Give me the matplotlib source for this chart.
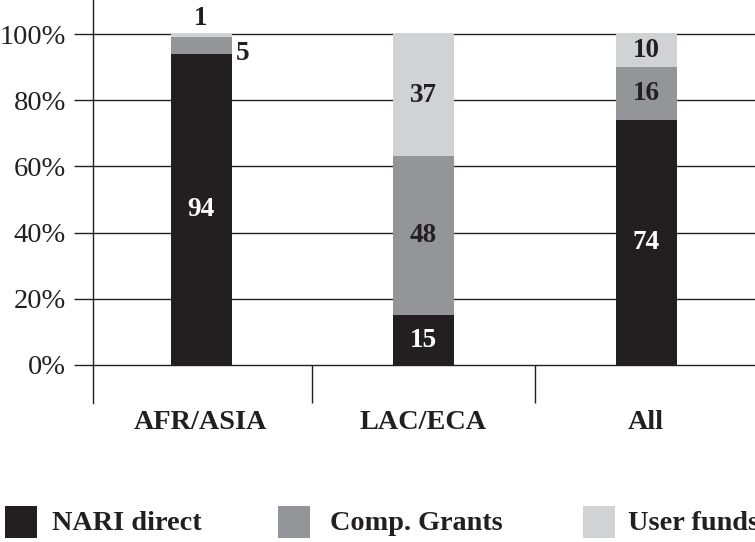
import matplotlib
matplotlib.use("Agg")
import matplotlib.pyplot as plt
from matplotlib.patches import Rectangle
import numpy as np

categories = ["AFR/ASIA", "LAC/ECA", "All"]
nari_direct = [94, 15, 74]
comp_grants = [5, 48, 16]
user_funds = [1, 37, 10]
series_names = ["NARI direct", "Comp. Grants", "User funds"]
y_ticks = [0, 20, 40, 60, 80, 100]
y_tick_labels = ["0%", "20%", "40%", "60%", "80%", "100%"]

colors = ["#231f20", "#939598", "#d1d2d4"]
label_colors = ["white", "#231f20", "#231f20"]

plt.rcParams["font.family"] = ["Liberation Serif", "DejaVu Serif"]

W, H = 755, 542
fig = plt.figure(figsize=(W / 100, H / 100), dpi=100)
ax_left, ax_right, ax_top, ax_bottom = 93, 755, 0, 403
ax = fig.add_axes([ax_left / W, 1 - ax_bottom / H, (ax_right - ax_left) / W, (ax_bottom - ax_top) / H])

px_per_cat = 222.5
c0 = 201.0
ax.set_xlim((ax_left - c0) / px_per_cat, (ax_right - c0) / px_per_cat)
ppu = (365 - 34) / 100.0
ax.set_ylim(-(ax_bottom - 365) / ppu, (365 - ax_top) / ppu)

x = np.arange(len(categories))
bw = 61 / px_per_cat
series = [nari_direct, comp_grants, user_funds]
bottom = np.zeros(len(categories))
for vals, col in zip(series, colors):
    ax.bar(x, vals, bw, bottom=bottom, color=col, zorder=3, linewidth=0)
    bottom += np.array(vals)

for t in y_ticks:
    ax.axhline(t, color="#231f20", lw=1.0, zorder=2)

ylo = ax.get_ylim()[0]
ax.vlines(np.arange(len(categories)) + 0.5, ylo, 0, color="#231f20", lw=1.0, zorder=2, clip_on=False)

for s in ["top", "right", "bottom"]:
    ax.spines[s].set_visible(False)
ax.spines["left"].set_color("#231f20")
ax.spines["left"].set_linewidth(1.0)

ax.set_yticks(y_ticks)
ax.set_yticklabels(y_tick_labels, fontsize=20.5, color="#231f20")
ax.tick_params(axis="y", length=13.5, width=1.0, color="#231f20", pad=6)
ax.set_xticks([])

for xi, cat in zip(x, categories):
    ax.annotate(cat, (xi, ylo), xytext=(0, -5), textcoords="offset points",
                ha="center", va="top", fontsize=20.3, fontweight="bold", color="#231f20",
                annotation_clip=False)

fs = 19.5
for i in range(len(categories)):
    b = 0
    for si, vals in enumerate(series):
        v = vals[i]
        if v >= 8:
            ax.text(x[i], b + v / 2, str(v), ha="center", va="center", fontsize=fs,
                    fontweight="bold", color=label_colors[si], zorder=5)
        b += v
ax.text(x[0], 100 + 1.0, str(user_funds[0]), ha="center", va="bottom", fontsize=fs,
        fontweight="bold", color="#231f20", zorder=5)
ax.text(x[0] + bw / 2 + 0.02, nari_direct[0] + comp_grants[0] / 2 - 2.5, str(comp_grants[0]),
        ha="left", va="center", fontsize=fs, fontweight="bold", color="#231f20", zorder=5)

leg_sq_x = [5, 278, 583]
leg_txt_x = [52, 330, 628]
sq_y0, sq_y1 = 506, 538
for sx, tx, col, name in zip(leg_sq_x, leg_txt_x, colors, series_names):
    fig.patches.append(Rectangle((sx / W, 1 - sq_y1 / H), 32 / W, (sq_y1 - sq_y0) / H,
                                 transform=fig.transFigure, color=col, linewidth=0))
    fig.text(tx / W, 1 - 524 / H, name, ha="left", va="center", fontsize=20.3,
             fontweight="bold", color="#231f20")

fig.savefig("out.png", dpi=100)
